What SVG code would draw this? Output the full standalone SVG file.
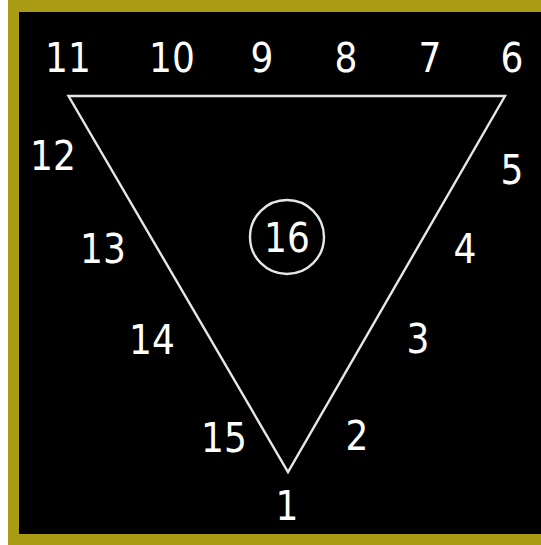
<svg xmlns="http://www.w3.org/2000/svg" width="541" height="545" viewBox="0 0 541 545">
<style>
.lbl{font-family:"DejaVu Sans Condensed","DejaVu Sans",sans-serif;font-stretch:condensed;font-size:40px;fill:#ffffff;text-anchor:middle}
.edge{fill:none;stroke:#e6e6e6;stroke-width:2.4}
</style>
<rect x="8" y="0" width="540" height="545" fill="#a99b14"/>
<rect x="19" y="12" width="522" height="522" fill="#000000"/>
<g id="connectors">
<polygon class="edge" points="68.5,96 505,96 288,472"/>
</g>
<g id="n16"><circle cx="287" cy="237" r="37" class="edge"/><text class="lbl" x="287" y="252">16</text></g>
<g id="n1"><text class="lbl" x="287" y="520">1</text></g>
<g id="n2"><text class="lbl" x="357" y="450">2</text></g>
<g id="n3"><text class="lbl" x="418" y="353">3</text></g>
<g id="n4"><text class="lbl" x="465" y="263">4</text></g>
<g id="n5"><text class="lbl" x="512" y="184">5</text></g>
<g id="n6"><text class="lbl" x="512" y="72">6</text></g>
<g id="n7"><text class="lbl" x="430" y="72">7</text></g>
<g id="n8"><text class="lbl" x="346" y="72">8</text></g>
<g id="n9"><text class="lbl" x="262" y="72">9</text></g>
<g id="n10"><text class="lbl" x="172" y="72">10</text></g>
<g id="n11"><text class="lbl" x="68" y="72">11</text></g>
<g id="n12"><text class="lbl" x="53" y="170">12</text></g>
<g id="n13"><text class="lbl" x="103" y="263">13</text></g>
<g id="n14"><text class="lbl" x="152" y="354">14</text></g>
<g id="n15"><text class="lbl" x="224" y="452">15</text></g>
</svg>
